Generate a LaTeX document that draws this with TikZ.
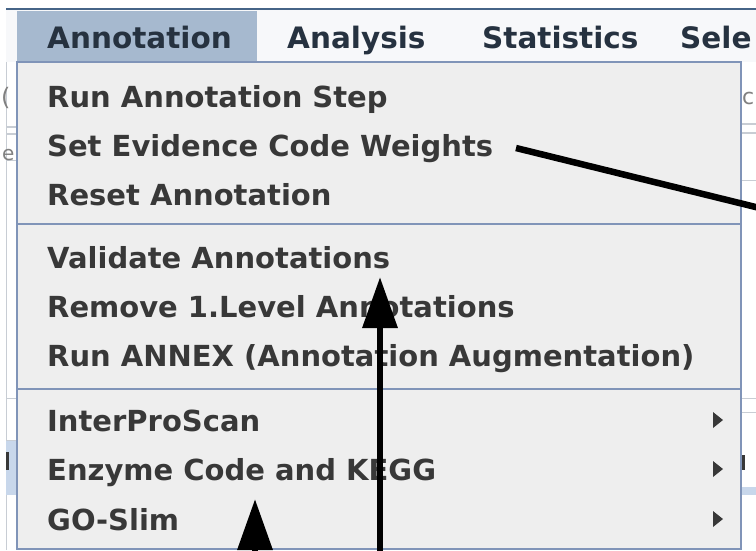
\documentclass[tikz,border=0pt]{standalone}
\usepackage{fontspec}
\setmainfont{DejaVu Sans}
\usetikzlibrary{arrows.meta}
\definecolor{popfill}{HTML}{EEEEEE}
\definecolor{popborder}{RGB}{128,148,184}
\definecolor{hilite}{RGB}{166,185,207}
\definecolor{itemtxt}{RGB}{56,56,56}
\definecolor{bartxt}{RGB}{38,50,64}
\definecolor{barfill}{RGB}{247,248,250}
\definecolor{topline}{RGB}{70,100,135}
\definecolor{bggray}{RGB}{200,205,212}
\definecolor{bgblue}{RGB}{200,215,235}
\begin{document}
\begin{tikzpicture}[x=1pt,y=-1pt,
  item/.style={anchor=base west, inner sep=0pt, font=\fontsize{29}{29}\selectfont\bfseries, text=itemtxt},
  baritem/.style={anchor=base west, inner sep=0pt, font=\fontsize{29.5}{29.5}\selectfont\bfseries, text=bartxt},
  sep/.style={draw=popborder, line width=1.6pt},
  callout/.style={line width=6.5pt, -{Triangle[length=51pt,width=34pt]}},
  subarrow/.style={fill=itemtxt}
]
\useasboundingbox (0,0) rectangle (756,550);
\clip (0,0) rectangle (756,550);
\fill[white] (0,0) rectangle (756,550);
% background application strips
\fill[white] (6,8) rectangle (756,550);
\draw[bggray, line width=1pt] (6,62) -- (6,550);
\draw[bggray, line width=2pt] (6,127) -- (17,127) (6,134) -- (17,134);
\draw[bggray, line width=1pt] (6,160) -- (17,160);
\node[anchor=base west, inner sep=0pt, text=gray, font=\fontsize{24}{24}\selectfont] at (1,105) {(};
\node[anchor=base west, inner sep=0pt, text=gray, font=\fontsize{20}{20}\selectfont] at (2,160) {e};
\fill[bgblue] (6,440) rectangle (17,495);
\draw[bggray, line width=1pt] (6,398) -- (17,398) (6,440) -- (17,440);
\fill[itemtxt] (6,452) rectangle (9,470);
\draw[bggray, line width=2pt] (742,124) -- (756,124) (742,133) -- (756,133);
\draw[bggray, line width=1pt] (742,180) -- (756,180) (742,398) -- (756,398) (742,412) -- (756,412);
\fill[bgblue] (742,487) rectangle (756,495);
\node[anchor=base west, inner sep=0pt, text=gray, font=\fontsize{22}{22}\selectfont] at (742,104) {c};
\fill[itemtxt] (742,455) rectangle (745,470);
% menu bar
\fill[barfill] (6,9) rectangle (756,62);
\draw[topline, line width=2.5pt] (6,9) -- (756,9);
\fill[hilite] (17,11) rectangle (257,62);
\node[baritem] (mAnn) at (47,48) {Annotation};
\node[baritem] (mAna) at (287,48) {Analysis};
\node[baritem] (mSta) at (482,48) {Statistics};
\node[baritem] (mSel) at (680,48) {Sele};
% popup menu
\fill[popfill] (17,62) rectangle (741,549);
\draw[popborder, line width=1.8pt] (17,549) -- (17,62) -- (741,62) -- (741,549) -- cycle;
\draw[sep] (17,224) -- (741,224);
\draw[sep] (17,389) -- (741,389);
\node[item] (i1) at (47,107) {Run Annotation Step};
\node[item] (i2) at (47,156) {Set Evidence Code Weights};
\node[item] (i3) at (47,205) {Reset Annotation};
\node[item] (i4) at (47,268) {Validate Annotations};
\node[item] (i5) at (47,317) {Remove 1.Level Annotations};
\node[item] (i6) at (47,366) {Run ANNEX (Annotation Augmentation)};
\node[item] (i7) at (47,431) {InterProScan};
\node[item] (i8) at (47,480) {Enzyme Code and KEGG};
\node[item] (i9) at (47,530) {GO-Slim};
\fill[subarrow] (713,412) -- (723,420) -- (713,428) -- cycle;
\fill[subarrow] (713,461) -- (723,469) -- (713,477) -- cycle;
\fill[subarrow] (713,511) -- (723,519) -- (713,527) -- cycle;
% callout arrows
\coordinate (a1s) at (516,148);
\coordinate (a1e) at (780,213);
\coordinate (a2s) at (380,560);
\coordinate (a2e) at (380,277);
\coordinate (a3s) at (255,580);
\coordinate (a3e) at (255,499);
\draw[line width=6.5pt] (a1s) -- (a1e);
\draw[callout] (a2s) -- (a2e);
\draw[callout] (a3s) -- (a3e);
\end{tikzpicture}
\end{document}
